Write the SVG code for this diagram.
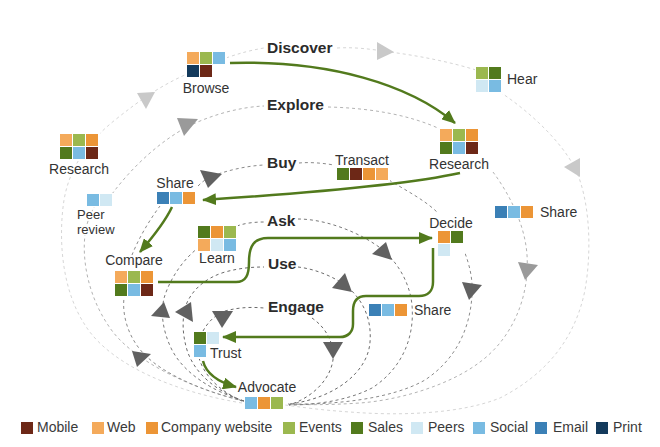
<svg xmlns="http://www.w3.org/2000/svg" width="660" height="447" viewBox="0 0 660 447">
<style>
text{font-family:"Liberation Sans",Arial,sans-serif;fill:#333}
.lbl{font-size:14px;paint-order:stroke;stroke:#fff;stroke-width:3px;stroke-linejoin:round}
.sm{font-size:13px}
.loop{font-size:15.5px;font-weight:bold;fill:#2b2b2b}
.lg{font-size:14px;fill:#3a3a3a}
.d{fill:none;stroke-width:1;stroke-dasharray:3 3}
.d1{stroke:#d6d6d6}.d2{stroke:#b3b3b3}.d3{stroke:#8a8a8a}.d4{stroke:#787878}.d5{stroke:#6a6a6a}
.t1{fill:#c9c9c9}.t2{fill:#9a9a9a}.t3{fill:#616161}
.g{fill:none;stroke:#527a1d;stroke-width:2.5;marker-end:url(#ga)}
.bg{fill:#fff}
.mo{fill:#6d2817}.we{fill:#f4aa5b}.co{fill:#ec9536}.ev{fill:#9bb84f}.sa{fill:#527a1d}.pe{fill:#d0e8f3}.so{fill:#79bbe2}.em{fill:#3b80b6}.pr{fill:#133a5c}
</style>
<defs>
<marker id="ga" viewBox="0 0 14 12" refX="13" refY="6" markerWidth="14" markerHeight="12" markerUnits="userSpaceOnUse" orient="auto"><path d="M0,0 L14,6 L0,12 z" fill="#527a1d"/></marker>
</defs>
<rect width="660" height="447" fill="#fff"/>
<g id="connectors">
<!-- Discover -->
<path class="d d1" d="M242,403 C175,392 110,365 85,325 C62,290 58,240 64,200 C70,165 90,140 115,120 C140,100 160,86 187,74 M226,58 C240,53 252,50 264,48 M337,48 C355,47 370,49 390,52 C420,56 450,62 476,70 M500,92 C530,112 560,140 575,168 C590,200 592,250 585,290 C575,340 545,375 500,398 C460,414 400,416 350,412 C320,410 300,407 285,405"/>
<!-- Explore -->
<path class="d d2" d="M243,401 C190,388 130,360 108,325 C88,295 82,260 85,235 C87,220 92,208 100,200 M112,194 C130,170 155,145 185,128 C210,115 240,107 264,106 M328,107 C370,108 410,115 440,129 M493,172 C510,195 525,225 527,255 C530,300 510,340 480,362 C450,385 400,400 360,403 C330,405 305,405 287,404"/>
<!-- Buy -->
<path class="d d3" d="M244,401 C205,392 165,375 145,355 C128,338 122,315 124,298 M132,255 C138,240 148,222 160,206 M198,186 C202,182 206,179 210,177 C225,171 245,166 264,165 M299,163 C310,162 322,163 334,165 M389,180 C405,190 425,200 438,213 M463,248 C470,265 473,280 472,295 C470,330 455,360 425,380 C390,400 330,405 288,404"/>
<!-- Ask -->
<path class="d d4" d="M244,401 C215,392 185,375 172,350 C162,330 160,310 165,295 C172,275 185,258 198,248 M237,226 C245,223 255,222 264,222 M298,219 C325,219 360,232 383,250 C400,265 410,285 412,305 C415,340 400,370 372,388 C345,402 310,405 289,405"/>
<!-- Use -->
<path class="d d5" d="M244,401 C218,392 195,375 187,350 C182,333 182,318 186,305 C192,290 205,278 225,272 C240,268 252,267 264,267 M298,267 C315,269 332,276 345,285 C362,298 372,318 370,342 C368,372 335,398 290,404"/>
<!-- Engage -->
<path class="d d5" d="M242,401 C222,392 205,378 199,358 M203,331 C208,322 215,315 225,311 C240,307 252,307 264,308 M312,318 C322,325 330,335 333,350 C336,370 320,395 289,405"/>
<!-- arrowheads on loops -->
<polygon class="t1" points="137,93 155,92 146,109"/>
<polygon class="t1" points="377,42 377,60 394,52"/>
<polygon class="t1" points="564,167 580,158 580,177"/>
<polygon class="t2" points="177,118 198,119 184,136"/>
<polygon class="t2" points="518,262 538,265 525,280"/>
<polygon class="t3" points="200,170 222,174 208,188"/>
<polygon class="t3" points="462,282 482,285 469,300"/>
<polygon class="t3" points="132,351 151,354 137,367"/>
<polygon class="t3" points="151,316 164,302 170,318"/>
<polygon class="t3" points="372,254 386,242 392,260"/>
<polygon class="t3" points="175,312 191,302 193,322"/>
<polygon class="t3" points="332,288 345,273 352,292"/>
<polygon class="t3" points="212,311 233,311 222,328"/>
<polygon class="t3" points="323,342 343,342 333,359"/>
<!-- loop labels -->
<text class="loop" x="267" y="53">Discover</text>
<text class="loop" x="267" y="110">Explore</text>
<text class="loop" x="267" y="168">Buy</text>
<text class="loop" x="267" y="226">Ask</text>
<text class="loop" x="268" y="269">Use</text>
<text class="loop" x="268" y="312">Engage</text>
<!-- green journey -->
<path class="g" d="M230,63 C330,60 410,85 455,123"/>
<path class="g" d="M460,173 C405,185 310,193 203,200"/>
<path class="g" d="M172,207 C165,222 152,238 140,252"/>
<path class="g" d="M158,282 H236 C246,282 249,275 249,262 C249,246 254,238 268,238 H432"/>
<path class="g" d="M433,248 V282 C433,291 428,296 419,296 H366 C357,296 353,302 353,311 V324 C353,332 348,337 340,337 H223"/>
<path class="g" d="M203,361 C206,373 218,382 236,387"/>
</g>
<g id="browse">
<rect class="bg" x="186" y="51" width="41" height="28"/>
<rect class="we" x="187" y="52" width="12" height="12"/><rect class="ev" x="200" y="52" width="12" height="12"/><rect class="so" x="213" y="52" width="12" height="12"/>
<rect class="pr" x="187" y="65" width="12" height="12"/><rect class="mo" x="200" y="65" width="12" height="12"/>
<text class="lbl" x="206" y="93" text-anchor="middle">Browse</text>
</g>
<g id="hear">
<rect class="bg" x="475" y="66" width="28" height="28"/>
<rect class="ev" x="476" y="67" width="12" height="12"/><rect class="sa" x="489" y="67" width="12" height="12"/>
<rect class="pe" x="476" y="80" width="12" height="12"/><rect class="so" x="489" y="80" width="12" height="12"/>
<text class="lbl" x="507" y="84">Hear</text>
</g>
<g id="research-right">
<rect class="bg" x="439" y="128" width="41" height="28"/>
<rect class="we" x="440" y="129" width="12" height="12"/><rect class="ev" x="453" y="129" width="12" height="12"/><rect class="co" x="466" y="129" width="12" height="12"/>
<rect class="sa" x="440" y="142" width="12" height="12"/><rect class="so" x="453" y="142" width="12" height="12"/><rect class="mo" x="466" y="142" width="12" height="12"/>
<text class="lbl" x="459" y="169" text-anchor="middle">Research</text>
</g>
<g id="research-left">
<rect class="bg" x="59" y="133" width="41" height="28"/>
<rect class="we" x="60" y="134" width="12" height="12"/><rect class="ev" x="73" y="134" width="12" height="12"/><rect class="co" x="86" y="134" width="12" height="12"/>
<rect class="sa" x="60" y="147" width="12" height="12"/><rect class="so" x="73" y="147" width="12" height="12"/><rect class="mo" x="86" y="147" width="12" height="12"/>
<text class="lbl" x="79" y="174" text-anchor="middle">Research</text>
</g>
<g id="peer-review">
<rect class="bg" x="86" y="193" width="28" height="14"/>
<rect class="so" x="87" y="194" width="12" height="12"/><rect class="pe" x="100" y="194" width="12" height="12"/>
<text class="lbl sm" x="77" y="219">Peer</text>
<text class="lbl sm" x="77" y="234">review</text>
</g>
<g id="share-left">
<rect class="bg" x="156" y="191" width="41" height="14"/>
<rect class="em" x="157" y="192" width="12" height="12"/><rect class="so" x="170" y="192" width="12" height="12"/><rect class="co" x="183" y="192" width="12" height="12"/>
<text class="lbl" x="175" y="188" text-anchor="middle">Share</text>
</g>
<g id="transact">
<rect class="bg" x="336" y="167" width="54" height="14"/>
<rect class="sa" x="337" y="168" width="12" height="12"/><rect class="mo" x="350" y="168" width="12" height="12"/><rect class="co" x="363" y="168" width="12" height="12"/><rect class="we" x="376" y="168" width="12" height="12"/>
<text class="lbl" x="362" y="165" text-anchor="middle">Transact</text>
</g>
<g id="share-top-right">
<rect class="bg" x="494" y="205" width="41" height="14"/>
<rect class="em" x="495" y="206" width="12" height="12"/><rect class="so" x="508" y="206" width="12" height="12"/><rect class="co" x="521" y="206" width="12" height="12"/>
<text class="lbl" x="540" y="217">Share</text>
</g>
<g id="decide">
<rect class="bg" x="437" y="230" width="28" height="28"/>
<rect class="co" x="438" y="231" width="12" height="12"/><rect class="sa" x="451" y="231" width="12" height="12"/>
<rect class="pe" x="438" y="244" width="12" height="12"/>
<text class="lbl" x="451" y="228" text-anchor="middle">Decide</text>
</g>
<g id="learn">
<rect class="bg" x="197" y="225" width="41" height="28"/>
<rect class="sa" x="198" y="226" width="12" height="12"/><rect class="co" x="211" y="226" width="12" height="12"/><rect class="ev" x="224" y="226" width="12" height="12"/>
<rect class="we" x="198" y="239" width="12" height="12"/><rect class="pe" x="211" y="239" width="12" height="12"/><rect class="so" x="224" y="239" width="12" height="12"/>
<text class="lbl" x="217" y="263" text-anchor="middle">Learn</text>
</g>
<g id="compare">
<rect class="bg" x="114" y="270" width="41" height="28"/>
<rect class="we" x="115" y="271" width="12" height="12"/><rect class="ev" x="128" y="271" width="12" height="12"/><rect class="co" x="141" y="271" width="12" height="12"/>
<rect class="sa" x="115" y="284" width="12" height="12"/><rect class="so" x="128" y="284" width="12" height="12"/><rect class="mo" x="141" y="284" width="12" height="12"/>
<text class="lbl" x="134" y="265" text-anchor="middle">Compare</text>
</g>
<g id="share-bottom-right">
<rect class="bg" x="368" y="303" width="41" height="14"/>
<rect class="em" x="369" y="304" width="12" height="12"/><rect class="so" x="382" y="304" width="12" height="12"/><rect class="co" x="395" y="304" width="12" height="12"/>
<text class="lbl" x="414" y="315">Share</text>
</g>
<g id="trust">
<rect class="bg" x="193" y="331" width="28" height="28"/>
<rect class="sa" x="194" y="332" width="12" height="12"/><rect class="pe" x="207" y="332" width="12" height="12"/>
<rect class="so" x="194" y="345" width="12" height="12"/>
<text class="lbl" x="210" y="358">Trust</text>
</g>
<g id="advocate">
<rect class="bg" x="244" y="396" width="41" height="14"/>
<rect class="so" x="245" y="397" width="12" height="12"/><rect class="co" x="258" y="397" width="12" height="12"/><rect class="ev" x="271" y="397" width="12" height="12"/>
<text class="lbl" x="267" y="392" text-anchor="middle">Advocate</text>
</g>
<g id="legend">
<rect class="mo" x="21" y="422" width="12" height="12"/><text class="lg" x="37" y="432">Mobile</text>
<rect class="we" x="92" y="422" width="12" height="12"/><text class="lg" x="107" y="432">Web</text>
<rect class="co" x="146" y="422" width="12" height="12"/><text class="lg" x="161" y="432">Company website</text>
<rect class="ev" x="283" y="422" width="12" height="12"/><text class="lg" x="299" y="432">Events</text>
<rect class="sa" x="351" y="422" width="12" height="12"/><text class="lg" x="368" y="432">Sales</text>
<rect class="pe" x="411" y="422" width="12" height="12"/><text class="lg" x="428" y="432">Peers</text>
<rect class="so" x="473" y="422" width="12" height="12"/><text class="lg" x="490" y="432">Social</text>
<rect class="em" x="535" y="422" width="12" height="12"/><text class="lg" x="553" y="432">Email</text>
<rect class="pr" x="596" y="422" width="12" height="12"/><text class="lg" x="613" y="432">Print</text>
</g>
</svg>
